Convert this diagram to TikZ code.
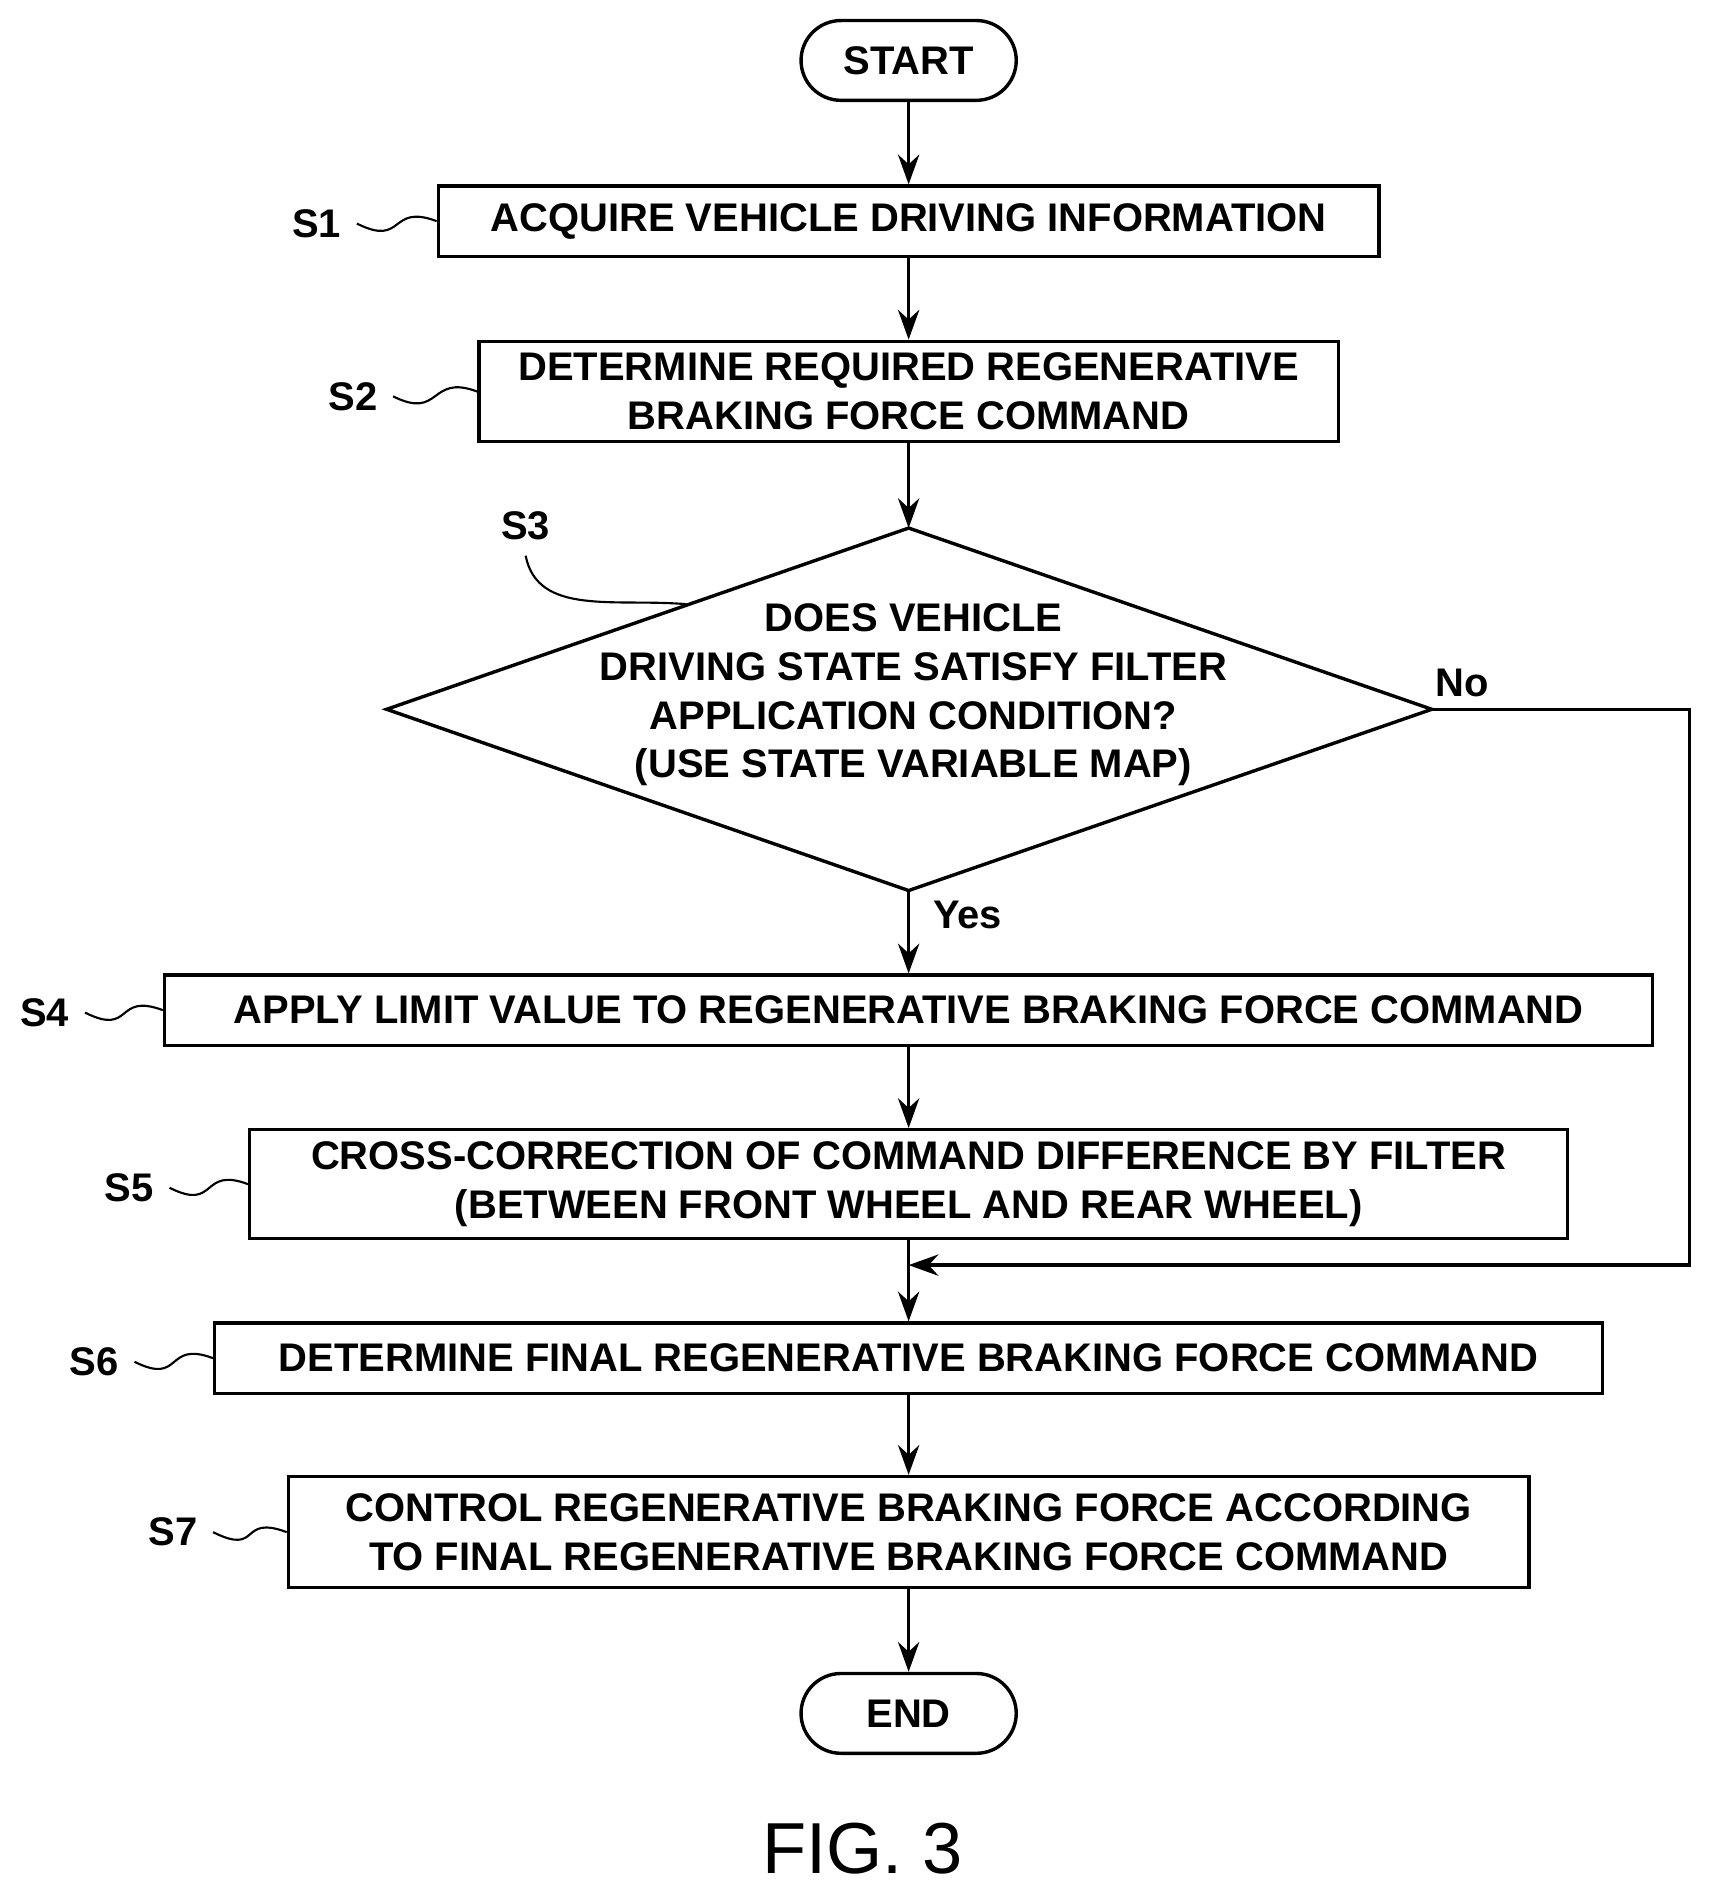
\documentclass[tikz,border=0pt]{standalone}
\usepackage{fontspec}
\setmainfont{Liberation Sans}
\usetikzlibrary{arrows.meta,positioning,calc}

\begin{document}
\begin{tikzpicture}[x=0.01cm,y=-0.01cm,
    line width=0.8pt,
    txt/.style={font=\fontsize{9.4}{11.5}\selectfont\bfseries, align=center},
    box/.style={rectangle, draw, minimum width=#1, minimum height=0.58cm, inner sep=0pt, txt},
    term/.style={rectangle, rounded corners=0.33cm, draw, minimum width=1.78cm, minimum height=0.66cm, txt},
    steplbl/.style={txt},
    arr/.style={-{Stealth[length=7pt,width=5pt]}},
    wave/.style={line width=0.5pt},
]
\useasboundingbox (0,0) rectangle (1414,1565);

% boxes
\node[term] (start) at (752,50) {START};
\node[box=7.78cm] (s1) at (752,183) {ACQUIRE VEHICLE DRIVING INFORMATION};
\node[box=7.11cm, minimum height=0.83cm] (s2) at (752,324) {DETERMINE REQUIRED REGENERATIVE\\BRAKING FORCE COMMAND};
\coordinate (dtop) at (752,437);
\coordinate (dbot) at (752,737);
\coordinate (dleft) at (320,587);
\coordinate (dright) at (1185,587);
\draw (dtop) -- (dright) -- (dbot) -- (dleft) -- cycle;
\node[txt] (s3) at (756,575) {DOES VEHICLE\\DRIVING STATE SATISFY FILTER\\APPLICATION CONDITION?\\(USE STATE VARIABLE MAP)};
\node[box=12.31cm] (s4) at (752,836) {APPLY LIMIT VALUE TO REGENERATIVE BRAKING FORCE COMMAND};
\node[box=10.90cm, minimum height=0.9cm] (s5) at (752,980) {CROSS-CORRECTION OF COMMAND DIFFERENCE BY FILTER\\(BETWEEN FRONT WHEEL AND REAR WHEEL)};
\coordinate (merge) at (752,1047);
\coordinate (nocorner) at (1398,587);
\coordinate (nodown) at (1398,1047);
\node[box=11.48cm] (s6) at (752,1124) {DETERMINE FINAL REGENERATIVE BRAKING FORCE COMMAND};
\node[box=10.26cm, minimum height=0.92cm] (s7) at (752,1268) {CONTROL REGENERATIVE BRAKING FORCE ACCORDING\\TO FINAL REGENERATIVE BRAKING FORCE COMMAND};
\node[term] (end) at (752,1418) {END};

% connectors
\draw[arr] (start) -- (s1);
\draw[arr] (s1) -- (s2);
\draw[arr] (s2) -- (dtop);
\draw[arr] (dbot) -- (s4) node[pos=0.3, right=2pt, txt] (yes) {Yes};
\draw[arr] (s4) -- (s5);
\draw (s5) -- (merge);
\draw[arr] (merge) -- (s6);
\draw[arr] (dright) -- (nocorner) -- (nodown) -- (merge);
\node[txt] (no) at (1210,565) {No};
\draw[arr] (s6) -- (s7);
\draw[arr] (s7) -- (end);

% step labels
\node[steplbl] (l1) at (262,185) {S1};
\node[steplbl] (l2) at (292,328) {S2};
\node[steplbl] (l3) at (435,435) {S3};
\node[steplbl] (l4) at (37,838) {S4};
\node[steplbl] (l5) at (107,983) {S5};
\node[steplbl] (l6) at (78,1127) {S6};
\node[steplbl] (l7) at (143,1268) {S7};
\draw[wave] (l1.east) .. controls +(40,20) and +(-40,-15) .. (s1.west);
\draw[wave] (l2.east) .. controls +(40,20) and +(-40,-15) .. (s2.west);
\draw[wave] (l3.south) .. controls +(10,50) and +(-60,-5) .. (568,500);
\draw[wave] (l4.east) .. controls +(40,20) and +(-40,-15) .. (s4.west);
\draw[wave] (l5.east) .. controls +(40,20) and +(-40,-15) .. (s5.west);
\draw[wave] (l6.east) .. controls +(40,20) and +(-40,-15) .. (s6.west);
\draw[wave] (l7.east) .. controls +(40,20) and +(-40,-15) .. (s7.west);

\node[font=\fontsize{17}{20}\selectfont] (fig) at (714,1530) {FIG. 3};
\end{tikzpicture}
\end{document}
